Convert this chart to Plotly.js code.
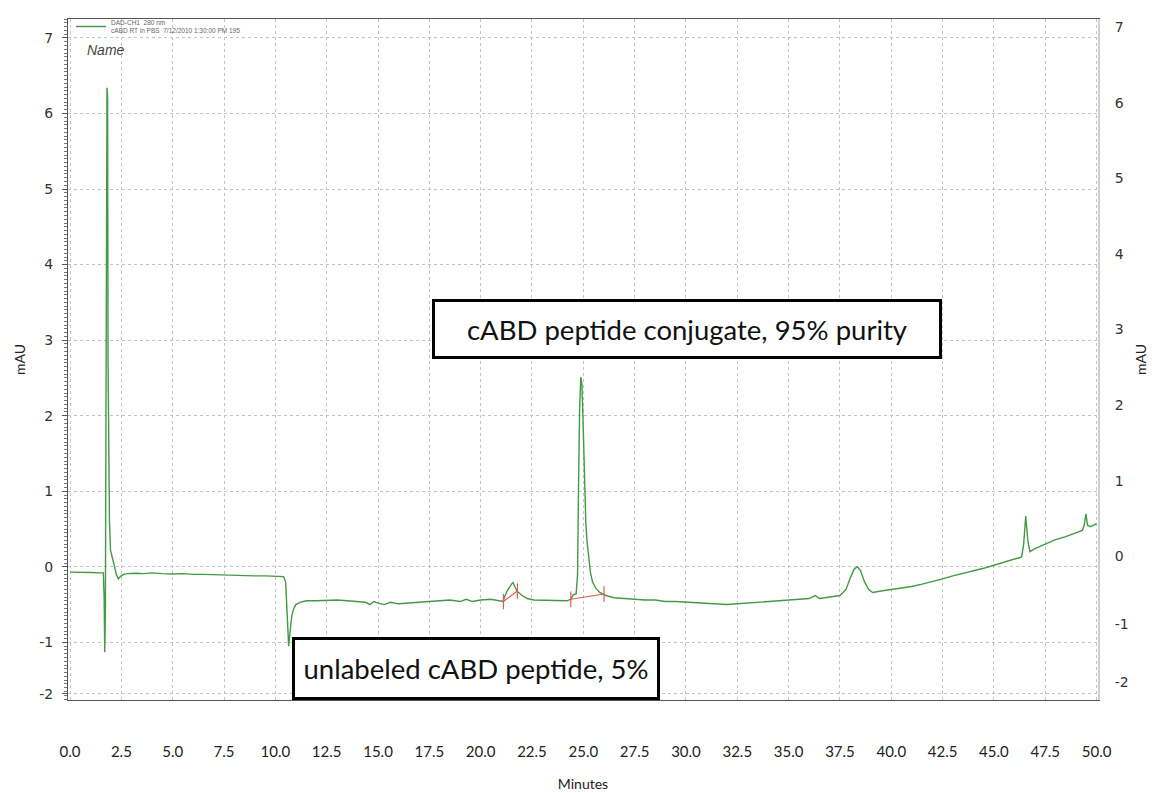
<!DOCTYPE html>
<html>
<head>
<meta charset="utf-8">
<script src="https://cdn.plot.ly/plotly-3.0.1.min.js"></script>
<style>
html,body{margin:0;padding:0;background:#fff;}
#chart{width:1152px;height:793px;}
</style>
</head>
<body>
<div id="chart"></div>
<script>
// Retention time (minutes)
const time = [
 0.00,0.50,1.00,1.50,1.62,1.66,1.69,1.72,1.75,1.78,1.80,1.83,1.85,1.88,1.92,1.97,2.05,2.15,2.25,2.35,2.45,2.60,2.80,
 3.20,3.60,4.00,4.50,5.00,5.50,6.00,6.50,7.00,7.50,8.00,8.50,9.00,9.50,10.00,10.40,10.50,10.58,10.65,10.72,10.80,10.90,
 11.00,11.20,11.50,12.00,12.50,13.00,13.50,14.00,14.40,14.60,14.80,15.00,15.30,15.60,16.00,16.50,17.00,17.50,18.00,18.50,
 19.00,19.30,19.60,20.00,20.50,20.80,21.09,21.19,21.33,21.53,21.58,21.68,21.77,22.02,22.26,22.60,23.00,23.40,23.80,24.20,
 24.40,24.50,24.65,24.72,24.76,24.82,24.88,24.93,24.98,25.05,25.12,25.18,25.25,25.35,25.45,25.60,25.80,26.10,26.50,27.00,
 27.50,28.00,28.50,29.00,29.50,30.00,30.50,31.00,31.50,32.00,32.50,33.00,33.50,34.00,34.50,35.00,35.50,36.00,36.30,36.50,
 37.00,37.50,37.80,38.00,38.20,38.35,38.50,38.70,38.90,39.10,39.50,40.00,40.50,41.00,41.50,42.00,42.50,43.00,43.50,44.00,
 44.50,45.00,45.50,46.00,46.35,46.45,46.55,46.65,46.75,47.00,47.50,48.00,48.50,49.00,49.30,49.40,49.48,49.56,49.70,50.00
];
// Absorbance (mAU)
const signal = [
 -0.07,-0.07,-0.075,-0.08,-0.08,-0.40,-1.13,-0.60,1.40,4.50,6.34,6.20,2.75,1.40,0.60,0.22,0.14,0.02,-0.10,-0.16,-0.13,-0.10,-0.09,
 -0.085,-0.09,-0.08,-0.09,-0.095,-0.09,-0.10,-0.10,-0.105,-0.11,-0.11,-0.115,-0.12,-0.12,-0.125,-0.13,-0.20,-0.70,-1.05,-0.85,-0.65,-0.55,
 -0.50,-0.47,-0.45,-0.45,-0.44,-0.44,-0.45,-0.46,-0.47,-0.50,-0.46,-0.48,-0.50,-0.47,-0.49,-0.48,-0.47,-0.46,-0.45,-0.44,
 -0.46,-0.43,-0.46,-0.44,-0.43,-0.45,-0.46,-0.38,-0.30,-0.22,-0.21,-0.27,-0.32,-0.38,-0.42,-0.44,-0.44,-0.45,-0.44,-0.45,
 -0.43,-0.37,-0.36,-0.10,0.90,2.10,2.51,2.42,2.00,1.10,0.60,0.34,0.12,-0.08,-0.20,-0.28,-0.34,-0.38,-0.41,-0.42,
 -0.43,-0.44,-0.44,-0.46,-0.46,-0.47,-0.48,-0.48,-0.49,-0.50,-0.49,-0.48,-0.47,-0.46,-0.45,-0.44,-0.43,-0.42,-0.38,-0.42,
 -0.40,-0.38,-0.30,-0.15,-0.03,0.00,-0.05,-0.20,-0.30,-0.34,-0.32,-0.30,-0.28,-0.26,-0.23,-0.20,-0.16,-0.12,-0.09,-0.05,
 -0.02,0.02,0.06,0.10,0.13,0.30,0.67,0.35,0.20,0.24,0.30,0.36,0.40,0.45,0.48,0.55,0.70,0.55,0.53,0.57
];
// Integration baselines (red) for the two labelled peaks
const intPeak1T = [21.11, 21.79];
const intPeak1Y = [-0.46, -0.32];
const intPeak2T = [24.39, 26.01];
const intPeak2Y = [-0.43, -0.36];

// Axis ticks
const xTicks = [0,2.5,5,7.5,10,12.5,15,17.5,20,22.5,25,27.5,30,32.5,35,37.5,40,42.5,45,47.5,50];
const xTickText = ['0.0','2.5','5.0','7.5','10.0','12.5','15.0','17.5','20.0','22.5','25.0','27.5','30.0','32.5','35.0','37.5','40.0','42.5','45.0','47.5','50.0'];
const yTickVals = [-1.68,-1,0,1,2,3,4,5,6,7];
const yTickText = ['-2','-1','0','1','2','3','4','5','6','7'];
const y2TickVals = [-1.67,-0.9,0,1,2,3,4,5,6,7];
const y2TickText = ['-2','-1','0','1','2','3','4','5','6','7'];

const legendName = 'DAD-CH1  280 nm<br>cABD RT in PBS  7/12/2010 1:30:00 PM 195';
const note1 = 'cABD peptide conjugate, 95% purity';
const note2 = 'unlabeled cABD peptide, 5%';

const traces = [
  {x: time, y: signal, type: 'scatter', mode: 'lines', name: legendName,
   line: {color: '#439a43', width: 1.4}, hoverinfo: 'x+y'},
  {x: intPeak1T, y: intPeak1Y, type: 'scatter', mode: 'lines+markers', showlegend: false,
   line: {color: '#e05a5a', width: 1.2},
   marker: {symbol: 'line-ns', size: 11, line: {color: '#e05a5a', width: 1.2}}},
  {x: intPeak2T, y: intPeak2Y, type: 'scatter', mode: 'lines+markers', showlegend: false,
   line: {color: '#e05a5a', width: 1.2},
   marker: {symbol: 'line-ns', size: 11, line: {color: '#e05a5a', width: 1.2}}},
  {x: [null], y: [null], yaxis: 'y2', type: 'scatter', mode: 'lines', showlegend: false, hoverinfo: 'skip'}
];

const layout = {
  width: 1152, height: 793,
  margin: {l: 68, r: 54, t: 15, b: 93},
  paper_bgcolor: '#ffffff', plot_bgcolor: '#ffffff',
  showlegend: true,
  legend: {x: 0.003, y: 1.011, xanchor: 'left', yanchor: 'top', bgcolor: 'rgba(0,0,0,0)',
           font: {family: 'Liberation Sans, Arial', size: 6.5, color: '#666'}, itemwidth: 30, tracegroupgap: 0},
  xaxis: {
    range: [-0.1, 50.07], tickmode: 'array', tickvals: xTicks, ticktext: xTickText,
    showgrid: true, gridcolor: '#c4c4c4', griddash: 'dot', gridwidth: 1,
    zeroline: false, showline: true, linecolor: '#555', linewidth: 1, mirror: true,
    ticks: 'outside', ticklen: 38, tickcolor: 'rgba(0,0,0,0)',
    tickfont: {family: 'Lato, Open Sans', size: 15, color: '#222'},
    title: {text: 'Minutes', font: {family: 'Lato, Open Sans', size: 14, color: '#222'}, standoff: 20}
  },
  yaxis: {
    range: [-1.763, 7.25], tickmode: 'array', tickvals: yTickVals, ticktext: yTickText,
    showgrid: true, gridcolor: '#c4c4c4', griddash: 'dot', gridwidth: 1,
    zeroline: false, showline: true, linecolor: '#555', linewidth: 1,
    ticks: 'outside', ticklen: 5, tickcolor: '#555', ticklabelstandoff: 6,
    minor: {dtick: 0.05, ticks: 'outside', ticklen: 3, tickcolor: '#777', showgrid: false},
    tickfont: {family: 'DejaVu Sans, Verdana', size: 14, color: '#333'},
    title: {text: 'mAU', font: {family: 'Lato, Open Sans', size: 14, color: '#222'}, standoff: 10}
  },
  yaxis2: {
    overlaying: 'y', side: 'right', range: [-1.903, 7.11], tickmode: 'array',
    tickvals: y2TickVals, ticktext: y2TickText, showgrid: false, zeroline: false,
    showline: true, linecolor: '#d0d0d0', linewidth: 2,
    ticks: 'outside', ticklen: 12, tickcolor: 'rgba(0,0,0,0)',
    tickfont: {family: 'DejaVu Sans, Verdana', size: 14, color: '#333'},
    title: {text: 'mAU', font: {family: 'Lato, Open Sans', size: 14, color: '#222'}, standoff: 8}
  },
  annotations: [
    {xref: 'paper', yref: 'paper', x: 0.0165, y: 0.9547, xanchor: 'left', yanchor: 'middle',
     text: '<i>Name</i>', showarrow: false, font: {family: 'Liberation Sans, Arial', size: 14, color: '#444'}},
    {xref: 'paper', yref: 'paper', x: 0.601, y: 0.5445, xanchor: 'center', yanchor: 'middle',
     text: note1, showarrow: false, width: 504, height: 54, bgcolor: '#ffffff',
     bordercolor: '#000', borderwidth: 3, borderpad: 0,
     font: {family: 'Lato, Open Sans', size: 27.5, color: '#111'}},
    {xref: 'paper', yref: 'paper', x: 0.396, y: 0.0467, xanchor: 'center', yanchor: 'middle',
     text: note2, showarrow: false, width: 362, height: 57, bgcolor: '#ffffff',
     bordercolor: '#000', borderwidth: 3, borderpad: 0,
     font: {family: 'Lato, Open Sans', size: 27.5, color: '#111'}}
  ]
};

Plotly.newPlot('chart', traces, layout, {displayModeBar: false, staticPlot: true});
</script>
</body>
</html>
